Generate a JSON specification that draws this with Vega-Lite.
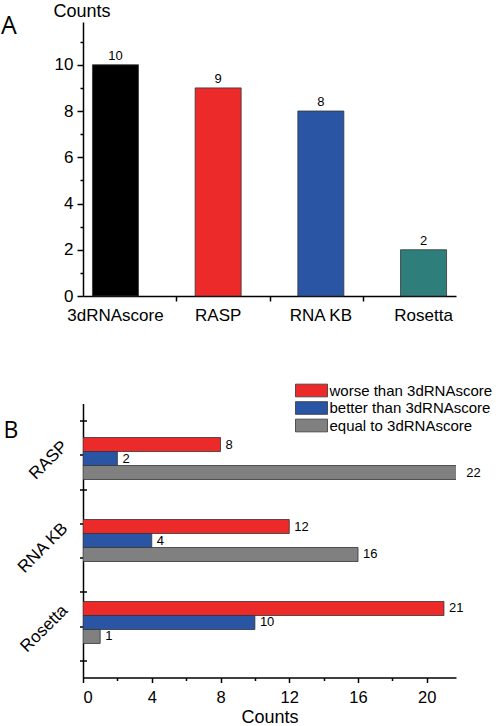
{
  "$schema": "https://vega.github.io/schema/vega-lite/v6.json",
  "padding": {"left": 1, "top": 2, "right": 0, "bottom": 0},
  "spacing": 58.5,
  "resolve": {"scale": {"color": "independent"}},
  "config": {
    "view": {"stroke": null},
    "font": "Liberation Sans",
    "axis": {"domainColor": "#000", "tickColor": "#000", "labelColor": "#000", "titleColor": "#000", "domainWidth": 1.5, "tickWidth": 1.5, "grid": false, "labelFont": "Liberation Sans", "titleFont": "Liberation Sans", "titleFontWeight": "normal"},
    "text": {"color": "#000", "font": "Liberation Sans"}
  },
  "vconcat": [
    {
      "width": 373,
      "height": 274,
      "title": {"text": "A", "anchor": "start", "frame": "bounds", "font": "Open Sans", "fontSize": 25, "fontWeight": "normal", "color": "#000", "dx": -52, "dy": 36.5, "offset": 0},
      "data": {"values": [
        {"method": "3dRNAscore", "count": 10},
        {"method": "RASP", "count": 9},
        {"method": "RNA KB", "count": 8},
        {"method": "Rosetta", "count": 2}
      ]},
      "layer": [
        {"layer": [
          {"mark": {"type": "bar", "stroke": "#333", "strokeWidth": 0.8},
           "encoding": {
             "x": {"field": "method", "type": "nominal", "sort": null, "scale": {"paddingInner": 0.552, "paddingOuter": 0.092}, "axis": {"title": null, "ticks": false, "labelAngle": 0, "labelFontSize": 17, "labelPadding": 11.5, "labelBaseline": "top"}},
             "y": {"field": "count", "type": "quantitative", "scale": {"domain": [0, 11.85], "nice": false}, "axis": {"values": [0, 2, 4, 6, 8, 10], "title": "Counts", "titleAngle": 0, "titleAlign": "left", "titleBaseline": "alphabetic", "titleX": -30, "titleY": -6, "titleFontSize": 18, "labelFontSize": 17, "tickSize": 6, "labelPadding": 4}},
             "color": {"field": "method", "type": "nominal", "sort": null, "scale": {"domain": ["3dRNAscore", "RASP", "RNA KB", "Rosetta"], "range": ["#000000", "#ED2A2A", "#2A55A5", "#2E7F7B"]}, "legend": null}
           }},
          {"mark": {"type": "text", "dy": -5, "baseline": "alphabetic", "fontSize": 13},
           "encoding": {
             "x": {"field": "method", "type": "nominal", "sort": null},
             "y": {"field": "count", "type": "quantitative"},
             "text": {"field": "count"}
           }}
        ]},
        {"mark": {"type": "point", "opacity": 0},
         "encoding": {
           "x": {"datum": 0, "type": "quantitative", "scale": {"domain": [0, 4], "nice": false}, "axis": {"values": [1, 2, 3], "labels": false, "domain": false, "tickSize": 5, "title": null, "orient": "bottom", "grid": false}},
           "y": {"field": "count", "type": "quantitative", "scale": {"domain": [0, 11.85], "nice": false}, "axis": {"values": [1, 3, 5, 7, 9, 11], "labels": false, "domain": false, "tickSize": 3, "title": null, "orient": "left", "grid": false}}
         }}
      ],
      "resolve": {"scale": {"x": "independent"}, "axis": {"x": "independent", "y": "independent"}}
    },
    {
      "width": 373,
      "height": 274,
      "title": {"text": "B", "anchor": "start", "frame": "bounds", "font": "Open Sans", "fontSize": 23, "fontWeight": "normal", "color": "#000", "dx": -10, "dy": 60, "offset": 0},
      "data": {"values": [
        {"method": "RASP", "type": "worse than 3dRNAscore", "count": 8},
        {"method": "RASP", "type": "better than 3dRNAscore", "count": 2},
        {"method": "RASP", "type": "equal to 3dRNAscore", "count": 22},
        {"method": "RNA KB", "type": "worse than 3dRNAscore", "count": 12},
        {"method": "RNA KB", "type": "better than 3dRNAscore", "count": 4},
        {"method": "RNA KB", "type": "equal to 3dRNAscore", "count": 16},
        {"method": "Rosetta", "type": "worse than 3dRNAscore", "count": 21},
        {"method": "Rosetta", "type": "better than 3dRNAscore", "count": 10},
        {"method": "Rosetta", "type": "equal to 3dRNAscore", "count": 1}
      ]},
      "layer": [
        {"layer": [
          {"mark": {"type": "bar", "stroke": "#333", "strokeWidth": 0.8, "clip": true},
           "encoding": {
             "y": {"field": "method", "type": "nominal", "sort": null, "scale": {"paddingInner": 0.488, "paddingOuter": 0.415}, "axis": {"title": null, "ticks": false, "labelAngle": -45, "labelAlign": "right", "labelBaseline": "middle", "labelOffset": -14.5, "labelPadding": 18.5, "labelFontSize": 17, "labelOverlap": false, "labelBound": false}},
             "yOffset": {"field": "type", "type": "nominal", "sort": ["worse than 3dRNAscore", "better than 3dRNAscore", "equal to 3dRNAscore"], "scale": {"paddingInner": 0, "paddingOuter": 0}},
             "x": {"field": "count", "type": "quantitative", "scale": {"domain": [0, 21.7], "nice": false}, "axis": {"values": [0, 4, 8, 12, 16, 20], "title": "Counts", "titleFontSize": 18, "labelFontSize": 16.5, "tickSize": 5, "labelPadding": 7, "titlePadding": 2}},
             "color": {"field": "type", "type": "nominal", "sort": ["worse than 3dRNAscore", "better than 3dRNAscore", "equal to 3dRNAscore"], "scale": {"domain": ["worse than 3dRNAscore", "better than 3dRNAscore", "equal to 3dRNAscore"], "range": ["#ED2A2A", "#2A55A5", "#808080"]},
               "legend": {"orient": "none", "legendX": 221, "legendY": -20.5, "title": null, "symbolType": "M-2.46,-0.98H2.46V0.98H-2.46Z", "symbolSize": 169, "symbolStrokeColor": "#333", "symbolStrokeWidth": 0.8, "symbolOpacity": 1, "labelFontSize": 15, "labelOffset": 10.5, "labelLimit": 0, "rowPadding": 0.5, "labelFont": "Liberation Sans", "labelColor": "#000"}}
           }},
          {"mark": {"type": "text", "align": "left", "baseline": "middle", "dx": 5, "fontSize": 13},
           "encoding": {
             "y": {"field": "method", "type": "nominal", "sort": null},
             "yOffset": {"field": "type", "type": "nominal", "sort": ["worse than 3dRNAscore", "better than 3dRNAscore", "equal to 3dRNAscore"]},
             "x": {"field": "count", "type": "quantitative"},
             "text": {"field": "count"}
           }}
        ]},
        {"mark": {"type": "point", "opacity": 0},
         "encoding": {
           "x": {"field": "count", "type": "quantitative", "scale": {"domain": [0, 21.7], "nice": false}, "axis": {"values": [2, 6, 10, 14, 18], "labels": false, "domain": false, "tickSize": 3, "title": null, "grid": false, "orient": "bottom"}},
           "y": {"datum": 0, "type": "quantitative", "scale": {"domain": [0, 8], "nice": false}, "axis": {"values": [0.5, 1.5, 2.5, 3.5, 4.5, 5.5, 6.5, 7.5], "labels": false, "domain": false, "tickSize": 7, "offset": -3.5, "title": null, "orient": "left", "grid": false}}
         }}
      ],
      "resolve": {"scale": {"y": "independent"}, "axis": {"x": "independent", "y": "independent"}}
    }
  ]
}
